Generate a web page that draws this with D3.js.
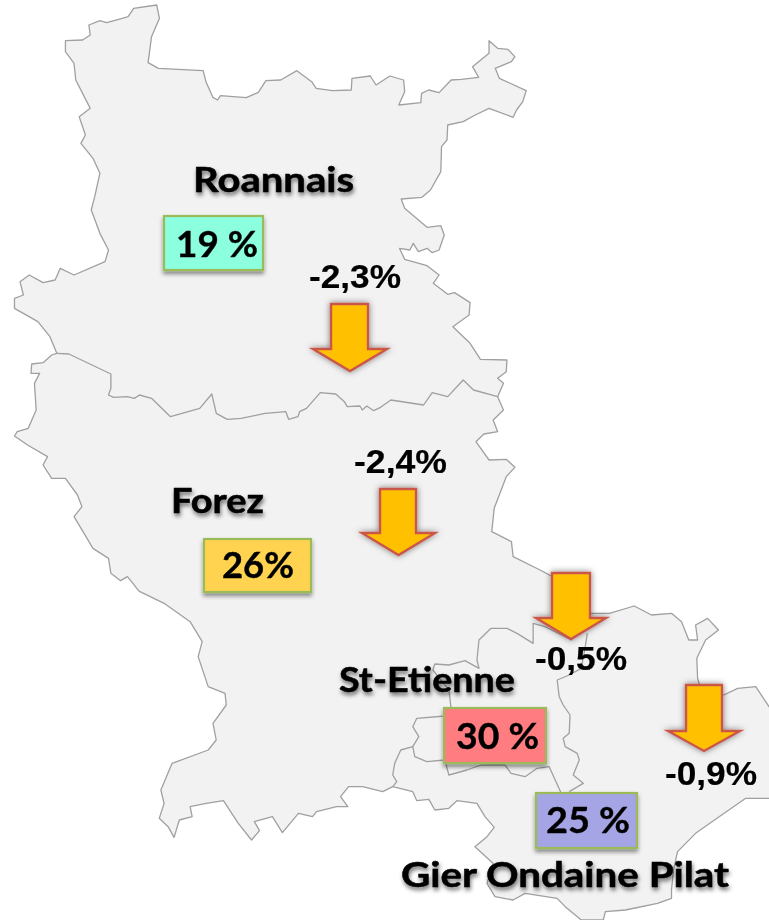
<!DOCTYPE html>
<html><head><meta charset="utf-8">
<script src="https://cdn.jsdelivr.net/npm/d3@7"></script>
<style>html,body{margin:0;padding:0;background:#fff;overflow:hidden}svg{display:block}</style>
</head><body><svg id="c" width="769" height="920"></svg>
<script>
// ---------- data ----------
const regions = ["Roannais","Forez","St-Etienne","Gier Ondaine Pilat"];
const shareLabels = ["19 %","26%","30 %","25 %"];
const changes = [-2.3,-2.4,-0.5,-0.9];
const boxColors = ["#8cffdf","#ffd34f","#ff7c80","#a5a5e6"];

// traced map geometry, one list per survey frame
const outlineNorth = [[190,122],[240,120],[262,105],[258,75],[290,62],[310,68],[355,55],[372,50],[388,25],[455,15],[463,55],[440,110],[430,188],[460,205],[590,212],[598,245],[618,292],[632,300],[640,287],[715,293],[750,277],[772,242],[815,240],[862,212],[905,245],[918,265],[965,272],[1020,270],[1022,235],[1075,228],[1092,255],[1132,228],[1172,240],[1175,275],[1158,315],[1222,308],[1224,280],[1245,270],[1275,278],[1310,240],[1340,238],[1390,232],[1372,200],[1420,160],[1420,122],[1445,145],[1475,148],[1495,170],[1485,185],[1438,205],[1450,235],[1528,272],[1518,305],[1500,330],[1490,352],[1420,325],[1380,345],[1345,365],[1300,375],[1298,420],[1282,440],[1280,515],[1250,570],[1225,592],[1165,597],[1175,625],[1240,682],[1280,677],[1290,705],[1275,750],[1255,758],[1240,745],[1215,755],[1200,730],[1190,750],[1160,745],[1175,778],[1240,797],[1275,825],[1258,850],[1300,883],[1320,878],[1365,908],[1362,945],[1315,980],[1365,1030],[1395,1078],[1472,1080],[1470,1115],[1445,1135],[1462,1150],[1445,1190]];
const outlineMiddleEast = [[1462,210],[1432,240],[1445,275],[1405,282],[1382,305],[1420,360],[1470,358],[1495,382],[1470,410],[1435,505],[1428,575],[1485,605],[1490,650],[1568,690]];
const outlineSouth = [[1060,-20],[1125,70],[1170,70],[1232,48],[1275,75],[1325,70],[1350,95],[1368,150],[1390,150],[1385,105],[1415,85],[1442,120],[1410,150],[1388,205],[1390,265],[1395,285],[1455,315],[1490,295],[1535,290],[1568,350],[1600,400],[1600,630],[1568,625],[1510,625],[1450,675],[1385,730],[1340,785],[1330,840],[1325,900],[1325,925],[1290,940],[1210,960],[1160,965],[1155,990],[1100,990],[1060,950],[1040,925],[960,910],[930,930],[885,920],[865,880],[880,820],[835,770],[865,740],[883,712],[860,680],[840,640],[790,632],[770,655],[735,660],[720,628],[690,632],[680,605],[630,590],[605,605],[555,590],[520,590],[500,620],[518,650],[490,650],[440,665],[430,680],[395,670],[355,728],[330,680],[285,695],[298,722],[278,750],[245,700],[208,632],[165,640],[125,650],[130,680],[98,690],[85,742],[70,710],[48,685],[60,640],[52,600],[80,520],[170,480],[190,450],[182,400],[215,345],[212,310],[170,290],[145,200],[155,155],[125,95],[60,40],[0,5]];
const outlineMiddleWest = [[405,755],[370,710],[350,722],[322,700],[315,655],[270,625],[215,530],[238,500],[225,465],[190,415],[150,415],[125,375],[138,350],[80,315],[42,288],[50,275],[82,265],[105,210],[100,130],[115,100],[90,100],[92,72],[125,68],[150,45]];
const outlineWest = [[165,1060],[145,1010],[110,965],[42,925],[42,895],[68,885],[58,845],[85,825],[125,848],[160,840],[175,805],[215,825],[305,785],[315,750],[290,700],[265,630],[275,590],[290,520],[270,475],[235,430],[248,405],[230,350],[262,325],[220,240],[215,190],[190,155]];
const borderRoannaisForez = [[165,1060],[200,1062],[322,1122],[322,1165],[315,1185],[330,1192],[370,1190],[390,1195],[405,1185],[440,1195],[495,1250],[580,1225],[615,1182],[628,1240],[660,1258],[700,1255],[770,1240],[830,1235],[838,1258],[865,1250],[870,1235],[890,1225],[930,1178],[975,1182],[1000,1205],[1008,1220],[1045,1218],[1052,1230],[1065,1218],[1085,1232],[1105,1222],[1135,1200],[1230,1215],[1255,1178],[1300,1190],[1345,1140],[1375,1170],[1445,1190]];
const borderForezSouth = [[1125,70],[1075,150],[1010,110],[980,100],[980,160],[940,130],[915,115],[875,115],[845,150],[840,210],[845,235],[810,212],[770,225],[735,222],[730,240],[770,300],[775,350],[760,378],[690,385],[680,410],[695,440],[680,470],[650,480],[635,520],[630,555],[640,575],[630,590]];
const borderCityWest = [[680,470],[685,500],[715,515],[760,510],[770,555],[815,540],[850,525],[910,525],[925,550],[960,560],[990,535],[1020,530],[1035,570],[1050,610]];
const borderCityEast = [[1115,130],[1110,170],[1100,235],[1070,255],[1040,270],[1045,320],[1055,345],[1072,375],[1070,430],[1055,445],[1060,470],[1090,490],[1095,510],[1080,555],[1105,580],[1070,605]];

// layout of overlays
const nameLayout = [[193,354,192],[171,264,513],[339,515,692],[401,729,887]];
const boxLayout = [[164,263,216,270],[204,311,539,592],[444,546,708,763],[536,637,793,848]];
const shareTextLayout = [[176,258,257],[222,294,578],[456,539,749],[546,630,833]];
const arrowLayout = [[331,368,313,387,304,349,371],[380,416,362,435,489,533,555],[552,590,536,606,573,618,639],[686,722,668,740,685,731,751]];
const changeTextLayout = [[309,401,288],[354,447,473],[535,627,670],[665,757,785]];

// ---------- scales ----------
const xA = d3.scaleLinear([0,1568],[0,540]);
const yA = d3.scaleLinear([0,1380],[0,460]);
const yB = d3.scaleLinear([0,960],[340,660]);
const xC = d3.scaleLinear([0,1568],[140,769]);
const yC = d3.scaleLinear([0,990],[590,920]);
const inA = p => [xA(p[0]),yA(p[1])];
const inB = p => [xA(p[0]),yB(p[1])];
const inC = p => [xC(p[0]),yC(p[1])];
const line = d3.line();

const svg = d3.select("#c");
const defs = svg.append("defs");
function shadow(id,dx,dy,sd,op){
  const f = defs.append("filter").attr("id",id).attr("x","-20%").attr("y","-30%").attr("width","140%").attr("height","170%");
  f.append("feDropShadow").attr("dx",dx).attr("dy",dy).attr("stdDeviation",sd).attr("flood-color","#000").attr("flood-opacity",op);
}
shadow("sBox",0,3,2,.45);
shadow("sText",1,3,2.2,.55);
shadow("sArrow",0,0,3,.5);
const soft = defs.append("filter").attr("id","soft");
soft.append("feGaussianBlur").attr("stdDeviation",.35);

// ---------- map ----------
const outline = [...outlineNorth.map(inA),...outlineMiddleEast.map(inB),...outlineSouth.map(inC),...outlineMiddleWest.map(inB),...outlineWest.map(inA)];
const g = svg.append("g").attr("fill","none").attr("stroke","#a0a0a0").attr("stroke-width",1.3).attr("stroke-linejoin","round").attr("filter","url(#soft)");
g.append("path").attr("d",line(outline)+"Z").attr("fill","#f2f2f2");
g.append("path").attr("d",line(borderRoannaisForez.map(inA)));
[borderForezSouth,borderCityWest,borderCityEast].forEach(b=>g.append("path").attr("d",line(b.map(inC))));

// ---------- arrows ----------
svg.append("g").selectAll("path").data(arrowLayout).join("path")
  .attr("d",([l,r,hl,hr,t,hy,tip])=>line([[l,t],[r,t],[r,hy],[hr,hy],[(hl+hr)/2,tip],[hl,hy],[l,hy]])+"Z")
  .attr("fill","#ffc000").attr("stroke","#c9574a").attr("stroke-width",2.4).attr("stroke-linejoin","miter").attr("filter","url(#sArrow)");

// ---------- boxes ----------
svg.append("g").selectAll("rect").data(boxLayout).join("rect")
  .attr("x",d=>d[0]).attr("y",d=>d[2]).attr("width",d=>d[1]-d[0]).attr("height",d=>d[3]-d[2])
  .attr("fill",(d,i)=>boxColors[i]).attr("stroke","#9bbb59").attr("stroke-width",2.2).attr("filter","url(#sBox)");

function label(text,layout,font,size,weight,filter,thick){
  svg.append("g").selectAll("text").data(text).join("text")
    .attr("x",(d,i)=>layout[i][0]).attr("y",(d,i)=>layout[i][2])
    .attr("textLength",(d,i)=>layout[i][1]-layout[i][0]).attr("lengthAdjust","spacingAndGlyphs")
    .attr("font-family",font).attr("font-size",size).attr("font-weight",weight).attr("fill","#000")
    .attr("stroke","#000").attr("stroke-width",thick)
    .attr("filter",filter).text(d=>d);
}
const fmtChange = v => String(v).replace(".",",")+"%";
label(regions,nameLayout,"Lato, 'Open Sans', sans-serif",34,700,"url(#sText)",.5);
label(shareLabels,shareTextLayout,"Lato, 'Open Sans', sans-serif",37,700,"url(#soft)",.4);
label(changes.map(fmtChange),changeTextLayout,"'Liberation Sans', Arial, sans-serif",34,700,"url(#soft)",.2);
</script></body></html>
